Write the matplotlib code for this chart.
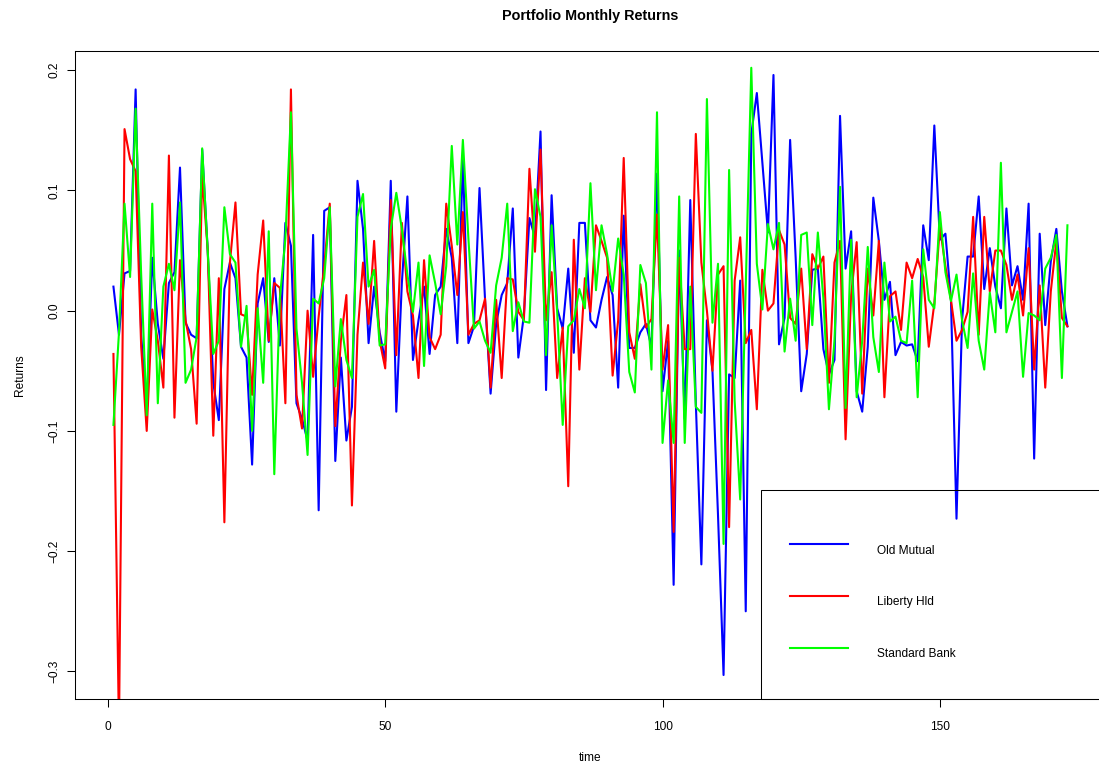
import numpy as np
import matplotlib
matplotlib.use("Agg")
import matplotlib.pyplot as plt
from matplotlib.patches import Rectangle

plt.rcParams['font.family'] = ['Liberation Sans', 'DejaVu Sans']

# monthly returns, months 1..173
old_mutual = [
    0.020, -0.020, 0.031, 0.033, 0.184, -0.020, -0.085, 0.044, -0.011, -0.040,
    0.023, 0.032, 0.119, -0.010, -0.020, -0.023, 0.134, 0.050, -0.060, -0.091,
    0.018, 0.040, 0.027, -0.030, -0.039, -0.128, 0.006, 0.027, -0.026, 0.027,
    -0.029, 0.073, 0.054, -0.077, -0.090, -0.108, 0.063, -0.166, 0.083, 0.086,
    -0.125, -0.039, -0.108, -0.080, 0.108, 0.068, -0.027, 0.020, -0.018, -0.042,
    0.108, -0.084, 0.023, 0.095, -0.041, -0.008, 0.020, -0.036, 0.013, 0.020,
    0.068, 0.044, -0.027, 0.127, -0.027, -0.013, 0.102, 0.009, -0.069, -0.011,
    0.013, 0.023, 0.085, -0.039, -0.004, 0.077, 0.061, 0.149, -0.066, 0.096,
    0.002, -0.015, 0.035, -0.035, 0.073, 0.073, -0.008, -0.014, 0.009, 0.028,
    0.013, -0.064, 0.079, -0.031, -0.031, -0.018, -0.011, -0.030, 0.114, -0.067,
    -0.025, -0.228, 0.050, -0.090, 0.092, -0.077, -0.211, -0.008, -0.050, -0.170,
    -0.303, -0.053, -0.056, 0.025, -0.250, 0.147, 0.181, 0.123, 0.065, 0.196,
    -0.028, -0.006, 0.142, 0.044, -0.067, -0.036, 0.034, 0.035, -0.032, -0.053,
    -0.041, 0.162, 0.035, 0.066, -0.067, -0.084, -0.030, 0.094, 0.058, 0.009,
    0.024, -0.037, -0.026, -0.029, -0.028, -0.042, 0.071, 0.042, 0.154, 0.059,
    0.064, 0.009, -0.173, -0.008, 0.045, 0.045, 0.095, 0.018, 0.052, 0.020,
    0.002, 0.085, 0.021, 0.037, 0.009, 0.089, -0.123, 0.064, -0.012, 0.041,
    0.068, 0.016, -0.013,
]

liberty_hld = [
    -0.036, -0.350, 0.151, 0.126, 0.116, -0.030, -0.100, 0.001, -0.025, -0.064,
    0.129, -0.089, 0.042, -0.008, -0.032, -0.094, 0.113, 0.050, -0.104, 0.027,
    -0.176, 0.040, 0.090, -0.003, -0.005, -0.070, 0.030, 0.075, -0.025, 0.023,
    0.019, -0.077, 0.184, -0.070, -0.098, 0.000, -0.055, -0.005, 0.037, 0.089,
    -0.096, -0.025, 0.013, -0.162, -0.020, 0.040, -0.011, 0.058, -0.025, -0.048,
    0.092, -0.037, 0.073, 0.016, -0.004, -0.056, 0.042, -0.022, -0.032, -0.020,
    0.089, 0.054, 0.013, 0.082, -0.020, -0.011, -0.008, 0.010, -0.064, 0.009,
    -0.056, 0.027, 0.026, -0.001, -0.008, 0.118, 0.049, 0.134, -0.008, 0.032,
    -0.056, -0.014, -0.146, 0.059, -0.049, 0.027, -0.001, 0.071, 0.058, 0.044,
    -0.054, -0.008, 0.127, -0.018, -0.040, 0.022, -0.014, -0.007, 0.080, -0.049,
    -0.012, -0.184, 0.044, -0.032, -0.032, 0.147, 0.040, 0.000, -0.050, 0.030,
    0.037, -0.180, 0.025, 0.061, -0.027, -0.016, -0.082, 0.034, 0.000, 0.006,
    0.067, 0.055, -0.006, -0.011, 0.035, -0.032, 0.047, 0.035, 0.045, -0.060,
    0.040, 0.058, -0.107, 0.013, 0.057, -0.069, 0.035, -0.004, 0.058, -0.072,
    0.012, 0.016, -0.016, 0.040, 0.027, 0.043, 0.028, -0.030, 0.006, 0.070,
    0.037, 0.009, -0.025, -0.016, -0.001, 0.078, -0.020, 0.078, 0.016, 0.050,
    0.050, 0.038, 0.009, 0.030, -0.004, 0.052, -0.049, 0.021, -0.064, 0.016,
    0.058, -0.006, -0.013,
]

standard_bank = [
    -0.095, -0.018, 0.089, 0.028, 0.168, 0.030, -0.087, 0.089, -0.077, 0.020,
    0.039, 0.017, 0.090, -0.060, -0.049, -0.022, 0.135, 0.050, -0.036, -0.025,
    0.086, 0.047, 0.040, -0.030, 0.004, -0.100, 0.002, -0.060, 0.066, -0.136,
    0.010, 0.060, 0.165, -0.015, -0.060, -0.120, 0.010, 0.006, 0.027, 0.086,
    -0.063, -0.007, -0.041, -0.056, 0.078, 0.097, 0.020, 0.034, -0.029, -0.028,
    0.068, 0.098, 0.068, 0.030, -0.001, 0.040, -0.046, 0.046, 0.023, -0.003,
    0.037, 0.137, 0.055, 0.142, 0.060, -0.015, -0.009, -0.025, -0.035, 0.021,
    0.044, 0.089, -0.017, 0.007, -0.009, -0.010, 0.101, 0.078, -0.037, 0.071,
    -0.001, -0.095, -0.013, -0.008, 0.018, 0.002, 0.106, 0.017, 0.071, 0.047,
    0.016, 0.060, 0.030, -0.051, -0.068, 0.038, 0.023, -0.049, 0.165, -0.110,
    -0.058, -0.110, 0.095, -0.110, 0.020, -0.080, -0.085, 0.176, -0.010, 0.039,
    -0.194, 0.117, -0.075, -0.157, 0.020, 0.202, 0.039, 0.001, 0.072, 0.051,
    0.073, -0.034, 0.010, -0.025, 0.063, 0.065, -0.012, 0.065, 0.010, -0.082,
    -0.025, 0.103, -0.081, 0.059, -0.072, -0.025, 0.053, -0.022, -0.051, 0.040,
    -0.009, -0.005, -0.025, -0.027, 0.025, -0.072, 0.051, 0.009, 0.002, 0.082,
    0.032, 0.008, 0.030, -0.008, -0.031, 0.031, -0.025, -0.049, 0.015, -0.018,
    0.123, -0.018, -0.001, 0.016, -0.055, -0.002, -0.004, -0.008, 0.035, 0.044,
    0.063, -0.056, 0.071,
]

series_names = ['Old Mutual', 'Liberty Hld', 'Standard Bank']
series_colors = ['#0000FF', '#FF0000', '#00FF00']
x_ticks = [0, 50, 100, 150]
y_ticks = [-0.3, -0.2, -0.1, 0.0, 0.1, 0.2]
y_tick_labels = ['\u22120.3', '\u22120.2', '\u22120.1', '0.0', '0.1', '0.2']

om = np.array(old_mutual)
time = np.arange(1, len(om) + 1)

fig = plt.figure(figsize=(10.99, 7.69), dpi=100)
# axes box runs slightly past the right edge, like the original
ax = fig.add_axes([0.0685, 0.0910, 0.9375, 0.8427])

for vals, name, col in zip([old_mutual, liberty_hld, standard_bank], series_names, series_colors):
    ax.plot(time, vals, color=col, linewidth=1.5, label=name)

# R-style limits: first series range plus 4%
xr = time[-1] - time[0]
ax.set_xlim(time[0] - 0.04 * xr, time[-1] + 0.04 * xr)
yr = om.max() - om.min()
ax.set_ylim(om.min() - 0.04 * yr, om.max() + 0.04 * yr)

ax.set_xticks(x_ticks)
ax.set_yticks(y_ticks)
ax.set_yticklabels(y_tick_labels, rotation=90, va='center')
ax.tick_params(axis='both', direction='out', length=6, width=0.75, labelsize=8.6, color='black')
ax.tick_params(axis='x', pad=9.5)
ax.tick_params(axis='y', pad=5)
for s in ax.spines.values():
    s.set_linewidth(0.75)
    s.set_color('black')

ax.set_title('Portfolio Monthly Returns', fontsize=10.4, fontweight='bold', pad=22)
ax.set_xlabel('time', fontsize=8.6, labelpad=14)
ax.set_ylabel('Returns', fontsize=8.6, labelpad=16)

# legend entries without frame, frame drawn as a separate box (R-style, transparent)
leg = ax.legend(loc='lower left', bbox_to_anchor=(0.6655, 0.0),
                fontsize=8.6, frameon=False, borderpad=2.4, handlelength=4.9,
                handleheight=3.8, labelspacing=1.63, handletextpad=2.4, borderaxespad=0)
for line in leg.get_lines():
    line.set_linewidth(1.5)
ax.add_patch(Rectangle((0.6655, 0.0), 0.40, 0.3225, transform=ax.transAxes,
                       fill=False, edgecolor='black', linewidth=0.75, clip_on=False, zorder=5))

fig.savefig('out.png', dpi=100)
